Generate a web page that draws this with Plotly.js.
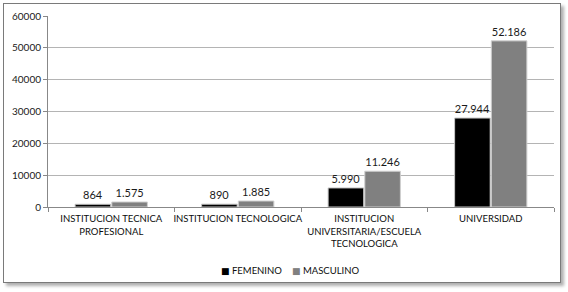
<!DOCTYPE html>
<html><head><meta charset="utf-8">
<script src="https://cdn.plot.ly/plotly-3.0.1.min.js"></script>
<style>
html,body{margin:0;padding:0;background:#fff;}
#frame{position:absolute;left:3px;top:3px;width:556px;height:278px;border:1px solid #7a7a7a;box-shadow:3px 3px 3px #b0b0b0;background:#fff;}
#chart{position:absolute;left:0;top:0;width:568px;height:292px;}
</style></head>
<body>
<div id="frame"></div>
<div id="chart"></div>
<script>
const categories = ["INSTITUCION TECNICA<br>PROFESIONAL", "INSTITUCION TECNOLOGICA", "INSTITUCION<br>UNIVERSITARIA/ESCUELA<br>TECNOLOGICA", "UNIVERSIDAD"];
const femenino = [864, 890, 5990, 27944];
const masculino = [1575, 1885, 11246, 52186];
const yTicks = [0, 10000, 20000, 30000, 40000, 50000, 60000];
const seriesNames = ["FEMENINO", "MASCULINO"];
const seriesColors = ["#000000", "#808080"];

function fmt(v){ return String(v).replace(/\B(?=(\d{3})+(?!\d))/g, "."); }
const numFont = {family: "Lato, sans-serif", color: "#1a1a1a"};
const txtFont = {family: "Lato, sans-serif", color: "#0d0d0d"};

const traces = [
  {type: "bar", name: seriesNames[0], x: categories, y: femenino, text: femenino.map(fmt),
   textposition: "outside", cliponaxis: false, textfont: Object.assign({size: 11}, numFont),
   marker: {color: seriesColors[0], line: {color: "#c8c8c8", width: 1}}, showlegend: false},
  {type: "bar", name: seriesNames[1], x: categories, y: masculino, text: masculino.map(fmt),
   textposition: "outside", cliponaxis: false, textfont: Object.assign({size: 11}, numFont),
   marker: {color: seriesColors[1], line: {color: "#d0d0d0", width: 1}}, showlegend: false}
];

const legendX = [219, 290];
const annotations = seriesNames.map((n, i) => ({
  xref: "paper", yref: "paper",
  x: (legendX[i] - 48) / 506, y: (207 - 270) / 191,
  xanchor: "left", yanchor: "middle", showarrow: false,
  text: "<span style='color:" + seriesColors[i] + ";font-family:DejaVu Sans;font-size:9px'>■</span> " + n,
  font: Object.assign({size: 9.5}, txtFont)
}));

const layout = {
  width: 568, height: 292,
  paper_bgcolor: "rgba(0,0,0,0)", plot_bgcolor: "rgba(0,0,0,0)",
  margin: {l: 48, r: 14, t: 16, b: 85},
  barmode: "group", bargap: 0.42, bargroupgap: 0.03,
  font: Object.assign({size: 9.5}, txtFont),
  showlegend: false,
  annotations: annotations,
  xaxis: {type: "category", tickson: "boundaries", ticks: "outside", ticklen: 4, tickcolor: "#888",
          showline: true, linecolor: "#888", linewidth: 1, showgrid: false, automargin: false,
          ticklabelstandoff: 3,
          tickfont: Object.assign({size: 9.5}, txtFont), tickangle: 0},
  yaxis: {range: [0, 60000], tickvals: yTicks, ticktext: yTicks.map(String), automargin: false,
          ticks: "outside", ticklen: 4, tickcolor: "#888",
          showline: true, linecolor: "#888", linewidth: 1,
          showgrid: true, gridcolor: "#b4b4b4", gridwidth: 1, zeroline: false,
          tickfont: Object.assign({size: 10}, numFont)}
};

Plotly.newPlot("chart", traces, layout, {displayModeBar: false, staticPlot: true});
</script>
</body></html>
